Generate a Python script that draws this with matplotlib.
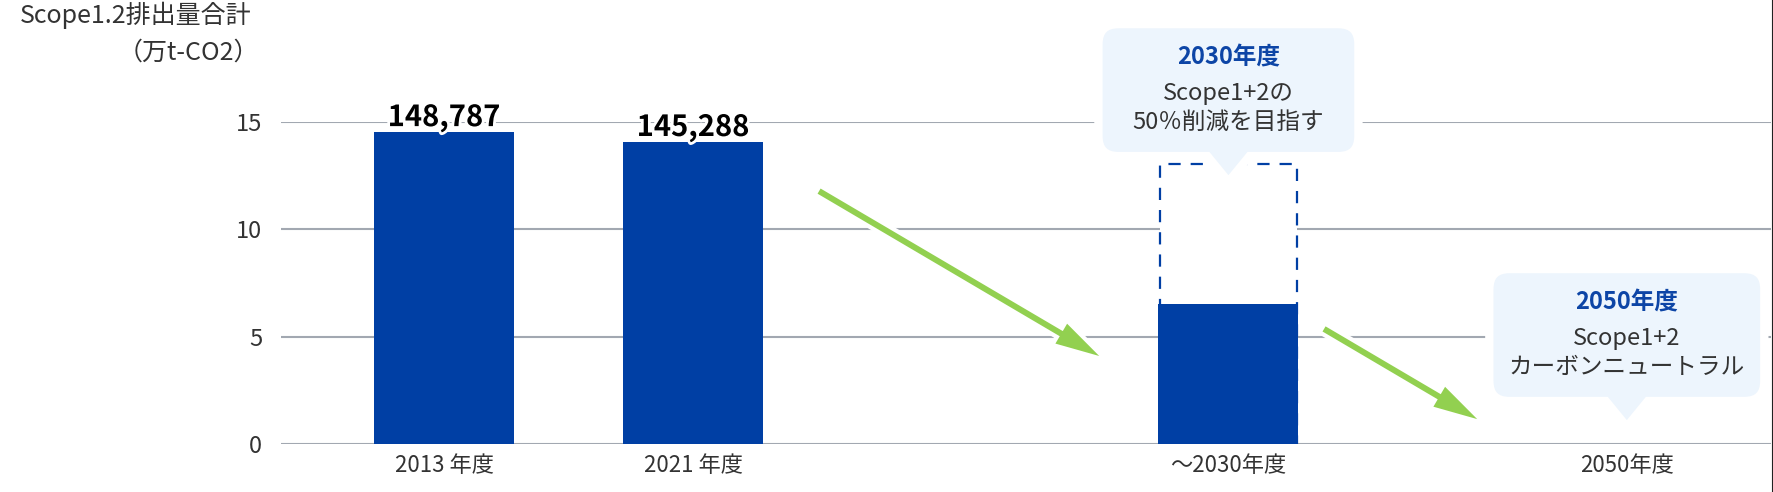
import matplotlib
matplotlib.use("Agg")
import matplotlib.pyplot as plt
import matplotlib.patheffects as pe
from matplotlib.lines import Line2D
from matplotlib.patches import ArrowStyle, FancyArrowPatch, PathPatch
from matplotlib.path import Path
from matplotlib.transforms import ScaledTranslation

plt.rcParams["font.family"] = ["Noto Sans CJK JP", "DejaVu Sans"]

# --- data -----------------------------------------------------------------
categories = ["2013 年度", "2021 年度", "～2030年度", "2050年度"]
cat_pos = [0.0, 1.0, 3.15, 4.75]
bar_values = [14.53, 14.07, 6.52]          # solid bars (2013, 2021, 2030)
bar_labels = ["148,787", "145,288"]
target_2030 = 13.04                        # dashed outline
yticks = [0, 5, 10, 15]

callout_titles = ["2030年度", "2050年度"]
callout_lines = [["Scope1+2の", "50％削減を目指す"],
                 ["Scope1+2", "カーボンニュートラル"]]
callout_cat = [2, 3]
callout_tip_y = [12.2, 0.79]
callout_width_px = [260, 275]

arrow_from = [(1.506, 11.78), (3.534, 5.36)]
arrow_to = [(2.631, 4.10), (4.149, 1.16)]

# --- style ----------------------------------------------------------------
BLUE = "#003FA4"
TITLE_BLUE = "#0D45A6"
TEXT = "#333333"
GRID = "#A2A8B1"
GREEN = "#92D050"
BUBBLE = "#EDF5FD"

W, H, DPI = 1773, 492, 100
fig = plt.figure(figsize=(W / DPI, H / DPI), dpi=DPI)
ax = fig.add_axes([281 / W, 48 / H, 1490 / W, 322 / H])
ax.set_xlim(-0.655, 5.329)
ax.set_ylim(0, 15)

for s in ax.spines.values():
    s.set_visible(False)
ax.set_axisbelow(True)
ax.yaxis.grid(True, color=GRID, lw=1.5)
ax.set_yticks(yticks)
ax.set_xticks(cat_pos)
ax.set_xticklabels(categories)
ax.tick_params(axis="y", length=0, pad=13.5, labelsize=17, labelcolor=TEXT)
ax.tick_params(axis="x", length=0, pad=7, labelsize=16, labelcolor=TEXT)

bar_w = 0.562
# dashed 2030 target outline (kept inside the solid bar's width)
ax.bar(cat_pos[2], target_2030, bar_w - 0.012, facecolor="white",
       edgecolor=BLUE, lw=1.6, linestyle=(0, (5.5, 4.5)), zorder=2)
ax.bar(cat_pos[:3], bar_values, bar_w, color=BLUE, zorder=3)

halo = [pe.withStroke(linewidth=4, foreground="white")]
for x, v, lab in zip(cat_pos, bar_values, bar_labels):
    ax.annotate(lab, (x, v), xytext=(0, 4.3), textcoords="offset points",
                ha="center", va="baseline", fontsize=21, fontweight="bold",
                color="black", path_effects=halo, zorder=4)

# green arrows
for a, b in zip(arrow_from, arrow_to):
    arr = FancyArrowPatch(a, b, arrowstyle=ArrowStyle.Simple(
        head_length=31.7, head_width=16.6, tail_width=4.3),
        mutation_scale=1, color=GREEN, lw=0, shrinkA=0, shrinkB=0,
        zorder=4, clip_on=False,
        path_effects=[pe.Stroke(linewidth=6, foreground="white"), pe.Normal()])
    ax.add_patch(arr)


def callout_path(width, height=132, tail_h=26, tail_half=21, r=20):
    w2 = width / 2
    b, t = tail_h, tail_h + height
    verts = [(-tail_half, b), (-w2 + r, b), (-w2, b), (-w2, b + r),
             (-w2, t - r), (-w2, t), (-w2 + r, t),
             (w2 - r, t), (w2, t), (w2, t - r),
             (w2, b + r), (w2, b), (w2 - r, b),
             (tail_half, b), (3, 4), (0, 0), (-3, 4),
             (-tail_half, b)]
    codes = [Path.MOVETO, Path.LINETO, Path.CURVE3, Path.CURVE3,
             Path.LINETO, Path.CURVE3, Path.CURVE3,
             Path.LINETO, Path.CURVE3, Path.CURVE3,
             Path.LINETO, Path.CURVE3, Path.CURVE3,
             Path.LINETO, Path.LINETO, Path.CURVE3, Path.CURVE3,
             Path.CLOSEPOLY]
    return Path(verts, codes)


for title, lines, ci, tip, wpx in zip(callout_titles, callout_lines,
                                      callout_cat, callout_tip_y,
                                      callout_width_px):
    x = cat_pos[ci]
    tr = ScaledTranslation(x, tip, ax.transData)
    ax.add_patch(PathPatch(callout_path(wpx), transform=tr, facecolor=BUBBLE,
                           edgecolor="white", lw=6, zorder=5, clip_on=False))
    ax.annotate(title, (x, tip), xytext=(0, 90), textcoords="offset points",
                ha="center", va="center", fontsize=17, fontweight="bold",
                color=TITLE_BLUE, zorder=6, annotation_clip=False)
    for dy, ln in zip([64, 43.2], lines):
        ax.annotate(ln, (x, tip), xytext=(0, dy), textcoords="offset points",
                    ha="center", va="center", fontsize=17, color=TEXT,
                    zorder=6, annotation_clip=False)

# axis title
fig.text(20 / W, 1 - 15 / H, "Scope1.2排出量合計", ha="left", va="center",
         fontsize=18, color=TEXT)
fig.text(118 / W, 1 - 53 / H, "（万t-CO2）", ha="left", va="center",
         fontsize=18, color=TEXT)

fig.add_artist(Line2D([1771.5 / W] * 2, [0, 1], color="#222222", lw=0.8,
                      transform=fig.transFigure))

fig.savefig("out.png", dpi=DPI, facecolor="white")
